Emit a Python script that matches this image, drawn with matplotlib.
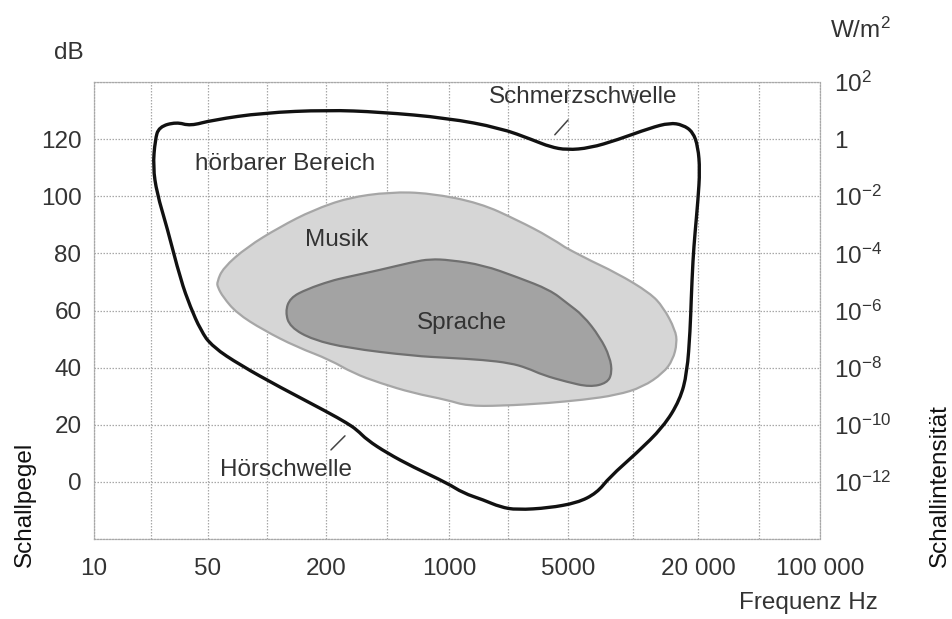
# Hörfläche: Hörschwelle, Schmerzschwelle, Musik- und Sprachbereich
import numpy as np
import matplotlib
matplotlib.use('Agg')
import matplotlib.pyplot as plt
from matplotlib.path import Path
from matplotlib.patches import PathPatch

plt.rcParams['font.family'] = ['Liberation Sans', 'DejaVu Sans']
plt.rcParams['mathtext.fontset'] = 'custom'
plt.rcParams['mathtext.rm'] = 'Liberation Sans'
plt.rcParams['mathtext.it'] = 'Liberation Sans'

# x axis: labelled frequencies (Hz)
x_ticks = [10, 50, 200, 1000, 5000, 20000, 100000]
x_labels = ['10', '50', '200', '1000', '5000', '20 000', '100 000']
# left axis dB, right axis W/m^2 exponents
db_ticks = [0, 20, 40, 60, 80, 100, 120]
int_ticks = [0, 20, 40, 60, 80, 100, 120, 140]
int_exp = [-12, -10, -8, -6, -4, -2, 0, 2]

# hörbarer Bereich (Schmerzschwelle oben, Hörschwelle unten)
hoer_f = [25, 32, 39, 53, 95, 203, 405, 975, 2000, 3110, 3920, 4930, 6320, 8430,
          12000, 14800, 17000, 18950, 20000, 20500, 20000, 19370, 18950, 18600,
          18400, 17800, 16500, 13800, 10400, 7800, 6800, 5500, 3900, 2500, 2000,
          1590, 1210, 975, 625, 445, 342, 300, 263, 203, 116, 73, 53, 45, 39, 34,
          28, 24.3, 23, 23.7]
hoer_db = [124.3, 126, 124.6, 126.7, 129.2, 130.2, 129.5, 127.4, 123.9, 119.7,
           117.3, 116.2, 116.9, 119.7, 123.9, 125.7, 125, 122.5, 117.3, 109.2,
           98.7, 87.1, 77.7, 63.7, 53.2, 38.1, 28.7, 19.2, 10.1, 1.7, -3.9, -7.4,
           -9.1, -9.8, -8.8, -6.3, -3.9, -0.4, 5.2, 10.1, 14.7, 18.2, 20.6, 24.5,
           33.2, 40.9, 47.2, 53.2, 61.2, 70.7, 89.2, 101.1, 110.3, 119.7]

# Musik
musik_f = [55.6, 59.7, 79, 116, 172, 263, 462, 780, 1520, 2510, 3920, 5860, 8430,
           12000, 13800, 15700, 16000, 15300, 13800, 11100, 8430, 5860, 3920, 2000,
           1275, 975, 625, 405, 285, 211, 142, 95.5, 70, 59.7, 56]
musik_db = [70.0, 74.9, 82.2, 89.2, 95.2, 99.4, 101.5, 101.1, 97.6, 91.7, 85.7,
            78.7, 73.1, 66.1, 61.2, 53.2, 48.6, 42.7, 38.1, 33.2, 30.4, 28.7, 27.6,
            26.6, 26.6, 28.7, 31.1, 34.6, 38.1, 42.7, 47.2, 53.2, 59.1, 64.7, 68.2]

# Sprache
sprache_f = [124, 131, 160, 211, 263, 405, 625, 780, 1010, 1590, 2510, 3920, 4930,
             5860, 7030, 7820, 8000, 7580, 6320, 4930, 3560, 2870, 2280, 1590, 1010,
             625, 263, 172, 131]
sprache_db = [59.5, 64.4, 67.5, 70.3, 71.7, 74.2, 77, 78, 77.7, 75.9, 71.7, 67.2,
              62.6, 58.4, 50.7, 43.7, 38.1, 34.6, 33.2, 35, 37.4, 39.9, 41.6, 42.7,
              43.4, 44.1, 46.9, 49.7, 54.2]

# schematic frequency axis: labelled frequencies sit on (nearly) equally spaced grid lines
tick_pos = [0, 114, 232, 355, 474, 604, 726]
log_ticks = np.log10(x_ticks)

def fwd(f):
    f = np.asarray(f, dtype=float)
    return np.interp(np.log10(np.maximum(f, 1e-300)), log_ticks, tick_pos)

def inv(p):
    return 10 ** np.interp(p, tick_pos, log_ticks)

def closed_curve(f, db):
    # the read points act as control points of a closed quadratic bezier outline
    f = np.asarray(f, dtype=float)
    db = np.asarray(db, dtype=float)
    f2 = np.roll(f, -1)
    db2 = np.roll(db, -1)
    mf = np.sqrt(f * f2)
    mdb = (db + db2) / 2
    verts = [(mf[-1], mdb[-1])]
    codes = [Path.MOVETO]
    for i in range(len(f)):
        verts += [(f[i], db[i]), (mf[i], mdb[i])]
        codes += [Path.CURVE3, Path.CURVE3]
    verts.append((mf[-1], mdb[-1]))
    codes.append(Path.CLOSEPOLY)
    return Path(verts, codes)

txt = '#333333'
fs = 17.5

fig = plt.figure(figsize=(9.53, 6.19), dpi=100)
ax = fig.add_axes([94/953, 1 - 539/619, 726/953, 457/619])
ax.set_xscale('function', functions=(fwd, inv))
ax.set_xlim(10, 100000)
ax.set_ylim(-20, 140)

ax.add_patch(PathPatch(closed_curve(musik_f, musik_db), facecolor='#d6d6d6',
                       edgecolor='#a6a6a6', lw=1.6, zorder=2))
ax.add_patch(PathPatch(closed_curve(sprache_f, sprache_db), facecolor='#a3a3a3',
                       edgecolor='#707070', lw=1.6, zorder=3))
ax.add_patch(PathPatch(closed_curve(hoer_f, hoer_db), facecolor='none',
                       edgecolor='#111111', lw=2.4, joinstyle='round', zorder=4))

# grid
minor = np.sqrt(np.array(x_ticks[:-1]) * np.array(x_ticks[1:]))
ax.set_xticks(x_ticks)
ax.set_xticklabels(x_labels)
ax.set_xticks(minor, minor=True)
ax.set_yticks(db_ticks)
ax.set_yticks([-20, 140], minor=True)
ax.grid(True, which='both', color='#a8a8a8', linestyle=(0, (1.2, 1.2)), lw=0.9)
ax.set_axisbelow(True)
for s in ax.spines.values():
    s.set_color('#a8a8a8')
    s.set_linestyle((0, (1.2, 1.2)))
    s.set_linewidth(0.9)
ax.tick_params(which='both', length=0, labelsize=fs, labelcolor=txt)
ax.tick_params(axis='x', pad=14)
ax.tick_params(axis='y', pad=9)

ax2 = ax.twinx()
ax2.set_ylim(ax.get_ylim())
ax2.set_yticks(int_ticks)
ax2.set_yticklabels(['1' if e == 0 else r'$\mathregular{10^{%d}}$' % e for e in int_exp])
ax2.tick_params(length=0, labelsize=fs, labelcolor=txt, pad=10)
for s in ax2.spines.values():
    s.set_visible(False)

# labels inside the plot
ax.text(124, 111.3, 'hörbarer Bereich', fontsize=fs, color=txt, ha='center', va='center', zorder=5)
ax.text(231, 84.7, 'Musik', fontsize=fs, color=txt, ha='center', va='center', zorder=5)
ax.text(1190, 55.6, 'Sprache', fontsize=fs, color=txt, ha='center', va='center', zorder=5)
ax.text(5860, 134.8, 'Schmerzschwelle', fontsize=fs, color=txt, ha='center', va='center', zorder=5)
ax.text(125, 4.2, 'Hörschwelle', fontsize=fs, color=txt, ha='center', va='center', zorder=5)
ax.annotate('', xy=(4080, 120.8), xytext=(5100, 127.4),
            arrowprops=dict(arrowstyle='-', color='#444444', lw=1.1))
ax.annotate('', xy=(263, 16.8), xytext=(208, 10.5),
            arrowprops=dict(arrowstyle='-', color='#444444', lw=1.1))

# axis titles
fig.text(69/953, 1 - 53/619, 'dB', fontsize=fs, color=txt, ha='center', va='center')
fig.text(830/953, 1 - 30/619, r'W/m$^\mathregular{2}$', fontsize=fs, color=txt, ha='left', va='center')
fig.text(878/953, 1 - 603/619, 'Frequenz Hz', fontsize=fs, color=txt, ha='right', va='center')
fig.text(25/953, 1 - 567/619, 'Schallpegel', fontsize=fs, color='#111111',
         rotation=90, ha='center', va='bottom')
fig.text(940/953, 1 - 567/619, 'Schallintensität', fontsize=fs, color='#111111',
         rotation=90, ha='center', va='bottom')

fig.savefig('out.png', dpi=100)
